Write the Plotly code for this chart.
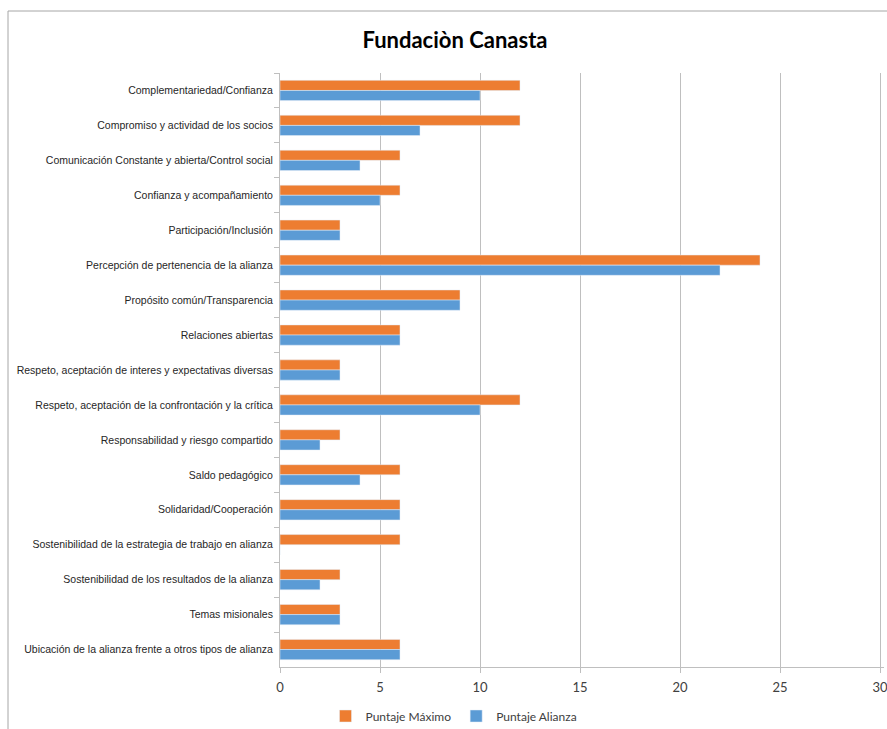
import plotly.graph_objects as go

categories = [
    "Complementariedad/Confianza",
    "Compromiso y actividad de los socios",
    "Comunicación Constante y abierta/Control social",
    "Confianza y acompañamiento",
    "Participación/Inclusión",
    "Percepción de pertenencia de la alianza",
    "Propósito común/Transparencia",
    "Relaciones abiertas",
    "Respeto, aceptación de interes y expectativas diversas",
    "Respeto, aceptación de la confrontación y la crítica",
    "Responsabilidad y riesgo compartido",
    "Saldo pedagógico",
    "Solidaridad/Cooperación",
    "Sostenibilidad de la estrategia de trabajo en alianza",
    "Sostenibilidad de los resultados de la alianza",
    "Temas misionales",
    "Ubicación de la alianza frente a otros tipos de alianza",
]
puntaje_maximo = [12, 12, 6, 6, 3, 24, 9, 6, 3, 12, 3, 6, 6, 6, 3, 3, 6]
puntaje_alianza = [10, 7, 4, 5, 3, 22, 9, 6, 3, 10, 2, 4, 6, 0, 2, 3, 6]
x_ticks = [0, 5, 10, 15, 20, 25, 30]

fig = go.Figure()
fig.add_trace(go.Bar(y=categories, x=puntaje_maximo, orientation="h",
                     name="Puntaje Máximo", marker_color="#ED7D31"))
fig.add_trace(go.Bar(y=categories, x=puntaje_alianza, orientation="h",
                     name="Puntaje Alianza", marker_color="#5B9BD5"))

W, H = 887, 729
XMAX = 30.2
L, T, B = 280, 73, 729 - 667
pw = 600 * XMAX / 30
R = W - L - pw
ph = H - T - B

fig.update_layout(
    width=W, height=H,
    margin=dict(l=L, r=R, t=T, b=B, autoexpand=False),
    paper_bgcolor="white", plot_bgcolor="white",
    barmode="group", bargap=0.42, bargroupgap=0,
    title=dict(text="<b>Fundaciòn Canasta</b>", x=455 / W, xanchor="center",
               y=1 - 40 / H, yanchor="middle",
               font=dict(family="Lato, Open Sans, sans-serif", size=22, color="#000000")),
    legend=dict(orientation="h", x=(454 - L) / pw, xanchor="center",
                y=-(716 - 667) / ph, yanchor="middle",
                font=dict(family="Lato, Open Sans, sans-serif", size=12, color="#404040"),
                itemwidth=30, tracegroupgap=0),
    showlegend=True,
)
fig.update_xaxes(range=[0, XMAX], tickvals=x_ticks, showgrid=True, gridcolor="#BFBFBF",
                 gridwidth=1, zeroline=False, showline=True, linecolor="#BFBFBF",
                 ticks="outside", ticklen=5, tickcolor="#BFBFBF", ticklabelstandoff=3,
                 ticklabeloverflow="allow",
                 tickfont=dict(family="Lato, Open Sans, sans-serif", size=13, color="#404040"))
fig.update_yaxes(autorange="reversed", type="category", showline=True, linecolor="#BFBFBF",
                 ticks="outside", tickson="boundaries", ticklen=5, tickcolor="#BFBFBF",
                 showgrid=False, ticklabelstandoff=4,
                 tickfont=dict(family="Liberation Sans Narrow, Arial Narrow, Liberation Sans, sans-serif",
                               size=10.5, color="#262626"))

# chart frame (top and left edges visible)
top_y = 1 + (T - 11) / ph
left_x = (8 - L) / pw
fig.add_shape(type="line", xref="paper", yref="paper",
              x0=left_x, x1=(W - L) / pw, y0=top_y, y1=top_y,
              line=dict(color="#A6A6A6", width=1))
fig.add_shape(type="line", xref="paper", yref="paper",
              x0=left_x, x1=left_x, y0=top_y, y1=-B / ph,
              line=dict(color="#A6A6A6", width=1))

fig.write_html(
    "out.html",
    config={"displayModeBar": False},
    post_script="document.body.style.margin='0';document.body.style.overflow='hidden';"
                "document.documentElement.style.overflow='hidden';",
)
